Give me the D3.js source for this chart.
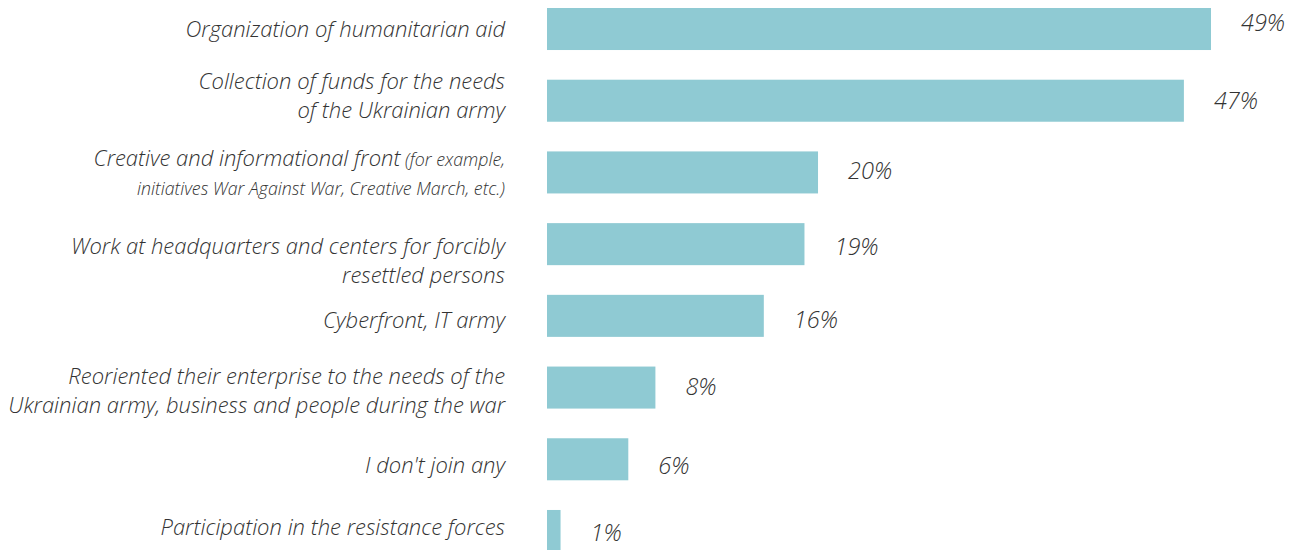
<!DOCTYPE html>
<html>
<head>
<meta charset="utf-8">
<script src="https://cdn.jsdelivr.net/npm/d3@7"></script>
<style>
  body { margin: 0; background: #fff; }
  text { font-family: "Open Sans", sans-serif; font-style: italic; font-weight: 300; fill: #333; }
</style>
</head>
<body>
<div id="chart"></div>
<script>
// categories (label lines), values in %
const categories = [
  ["Organization of humanitarian aid"],
  ["Collection of funds for the needs", "of the Ukrainian army"],
  ["Creative and informational front|(for example,", "initiatives War Against War, Creative March, etc.)"],
  ["Work at headquarters and centers for forcibly", "resettled persons"],
  ["Cyberfront, IT army"],
  ["Reoriented their enterprise to the needs of the", "Ukrainian army, business and people during the war"],
  ["I don't join any"],
  ["Participation in the resistance forces"]
];
const values = [49, 47, 20, 19, 16, 8, 6, 1];
const valueLabels = ["49%", "47%", "20%", "19%", "16%", "8%", "6%", "1%"];

const width = 1298, height = 550;
const labelShift = [0, -5, 0, 17, 4, 3, 6, -4];
const valueShift = [-6, 0, -2, 3, 4, -1, 6, 2];

const svg = d3.select("#chart").append("svg")
  .attr("width", width)
  .attr("height", height);

const idx = d3.range(values.length);

const y = d3.scaleBand()
  .domain(idx)
  .range([8, 552])
  .paddingInner(0.414)
  .paddingOuter(0);

const x = d3.scaleLinear()
  .domain([0, 49])
  .range([547, 1211]);

// bars
svg.append("g")
  .selectAll("rect")
  .data(idx)
  .join("rect")
  .attr("x", x(0))
  .attr("y", i => y(i))
  .attr("width", i => x(values[i]) - x(0))
  .attr("height", y.bandwidth())
  .attr("fill", "#8fcad3");

// value labels
svg.append("g")
  .selectAll("text")
  .data(idx)
  .join("text")
  .attr("x", i => x(values[i]) + 30)
  .attr("y", i => y(i) + y.bandwidth() / 2 + valueShift[i])
  .attr("dy", "0.35em")
  .attr("font-size", 23.5)
  .text(i => valueLabels[i]);

// category labels
const lineH = 29;
const lab = svg.append("g")
  .selectAll("text")
  .data(idx)
  .join("text")
  .attr("text-anchor", "end")
  .attr("font-size", 22)
  .attr("y", i => y(i) + y.bandwidth() / 2 + labelShift[i] - (categories[i].length - 1) * lineH / 2);

lab.each(function (i) {
  const t = d3.select(this);
  categories[i].forEach((line, k) => {
    const parts = line.split("|");
    const ts = t.append("tspan")
      .attr("x", 505)
      .attr("dy", k === 0 ? "0.35em" : lineH)
      .text(parts[0]);
    if (i === 2 && k === 1) ts.attr("font-size", 17.8);
    if (parts[1]) {
      t.append("tspan").attr("font-size", 17.8).text(" " + parts[1]);
    }
  });
});
</script>
</body>
</html>
